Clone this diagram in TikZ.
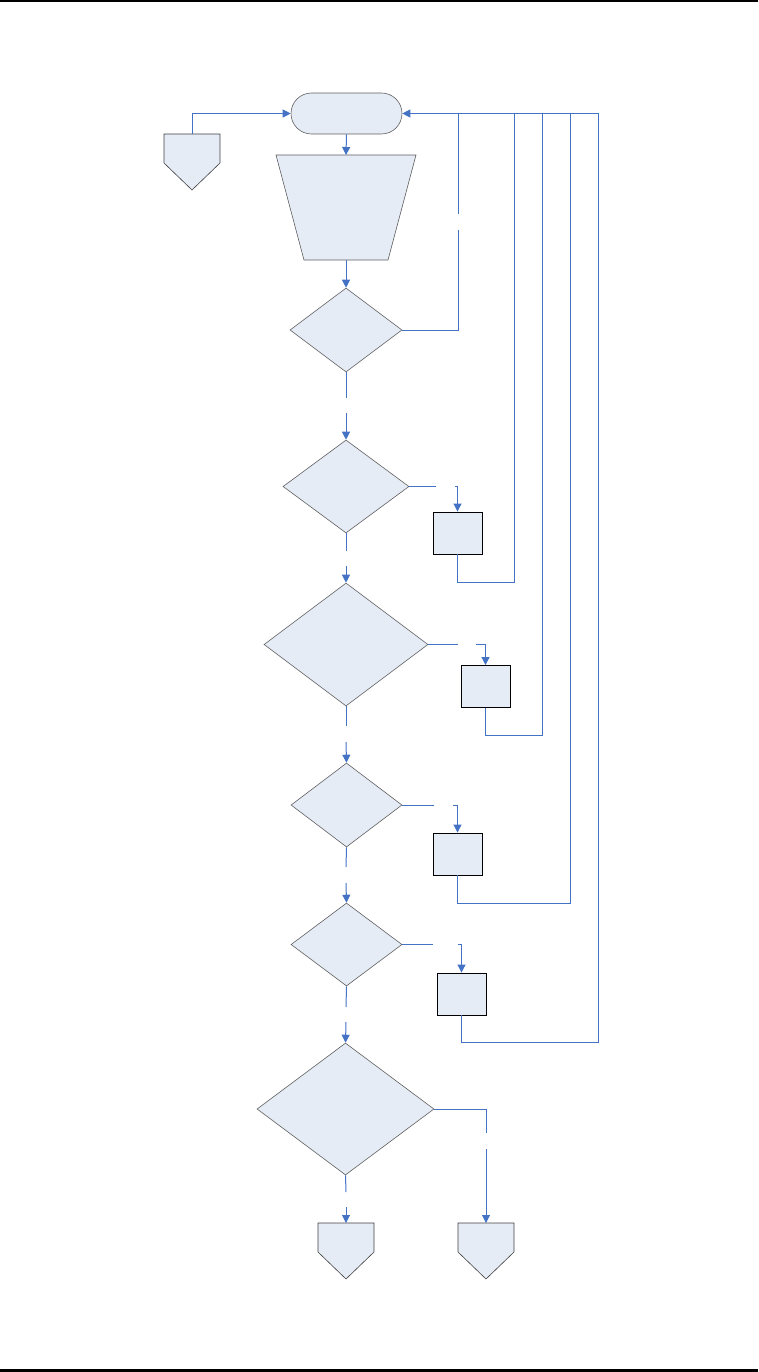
\documentclass[tikz,border=0pt]{standalone}
\usetikzlibrary{shapes.geometric,arrows.meta}
\definecolor{flowline}{RGB}{68,114,196}
\definecolor{shapefill}{RGB}{230,236,246}
\definecolor{shapeedge}{RGB}{95,95,95}
\begin{document}
\begin{tikzpicture}[x=1pt,y=-1pt,
  conn/.style={flowline, line width=1pt},
  arr/.style={conn, -{Triangle[length=8pt,width=8pt]}},
  dec/.style={diamond, draw=shapeedge, fill=shapefill, inner sep=0pt, line width=0.6pt},
  proc/.style={rectangle, draw=black, fill=shapefill, line width=0.9pt, minimum width=49pt, minimum height=42pt, inner sep=0pt},
  ghost/.style={rectangle, inner sep=0pt, outer sep=0pt},
  shapeline/.style={draw=shapeedge, fill=shapefill, line width=0.6pt},
  bar/.style={fill=black, draw=none}
  ]
\useasboundingbox (0,0) rectangle (758,1372);
\fill[bar] (0,0) rectangle (758,2.5);
\fill[bar] (0,1369) rectangle (758,1372);

% terminator
\node[draw=shapeedge, fill=shapefill, line width=0.6pt, rounded corners=20.5pt,
      minimum width=111pt, minimum height=41pt, inner sep=0pt] (start) at (346.5,113.5) {};

% manual operation (trapezoid)
\node[ghost, minimum width=140pt, minimum height=105pt] (man) at (346,207.5) {};
\path[shapeline] (man.north west) -- (man.north east) -- ([xshift=-28pt]man.south east)
   -- ([xshift=28pt]man.south west) -- cycle;

% decisions
\node[dec, minimum width=112pt, minimum height=84pt] (d1) at (346,330) {};
\node[dec, minimum width=126pt, minimum height=93pt] (d2) at (346,486.5) {};
\node[dec, minimum width=164pt, minimum height=123pt] (d3) at (346,644.5) {};
\node[dec, minimum width=111pt, minimum height=84pt] (d4) at (346.5,805) {};
\node[dec, minimum width=111pt, minimum height=83pt] (d5) at (346.5,944.5) {};
\node[dec, minimum width=177pt, minimum height=132pt] (d6) at (345.5,1109) {};

% processes
\node[proc] (p1) at (457.5,533) {};
\node[proc] (p2) at (485.5,686.5) {};
\node[proc] (p3) at (457.5,854) {};
\node[proc] (p4) at (461.5,994) {};

% off-page connectors
\node[ghost, minimum width=56pt, minimum height=56pt] (c0) at (192,162) {};
\node[ghost, minimum width=56pt, minimum height=56pt] (c1) at (346,1251) {};
\node[ghost, minimum width=56pt, minimum height=56pt] (c2) at (486,1251) {};
\foreach \c in {c0,c1,c2}{
  \path[shapeline, draw=black!75] (\c.north west) -- (\c.north east) -- ([yshift=-29pt]\c.north east)
     -- (\c.south) -- ([yshift=-29pt]\c.north west) -- cycle;
}

% coordinates for gaps and corners
\coordinate (g1a) at (346,398);  \coordinate (g1b) at (346,413);
\coordinate (g2a) at (346,551);  \coordinate (g2b) at (346,566);
\coordinate (g3a) at (346,726);  \coordinate (g3b) at (346,742);
\coordinate (g4a) at (346,867);  \coordinate (g4b) at (346,883);
\coordinate (g5a) at (346,1007); \coordinate (g5b) at (346,1022);
\coordinate (g6a) at (346,1192); \coordinate (g6b) at (346,1207);

% main flow
\draw[arr] (c0.north) |- (start.west);
\draw[arr] (start.south) -- (man.north);
\draw[arr] (man.south) -- (d1.north);
\draw[conn] (d1.south) -- (g1a);
\draw[arr] (g1b) -- (d2.north);
\draw[conn] (d2.south) -- (g2a);
\draw[arr] (g2b) -- (d3.north);
\draw[conn] (d3.south) -- (g3a);
\draw[arr] (g3b) -- (d4.north);
\draw[conn] (d4.south) -- (g4a);
\draw[arr] (g4b) -- (d5.north);
\draw[conn] (d5.south) -- (g5a);
\draw[arr] (g5b) -- (d6.north);
\draw[conn] (d6.south) -- (g6a);
\draw[arr] (g6b) -- (c1.north);

% d1 loop back
\coordinate (l1a) at (458.5,214); \coordinate (l1b) at (458.5,230);
\draw[conn] (d1.east) -| (l1b);
\draw[arr] (l1a) |- (start.east);

% d2 branch
\coordinate (b2a) at (436,486.5); \coordinate (b2b) at (455,486.5);
\draw[conn] (d2.east) -- (b2a);
\draw[arr] (b2b) -| (p1.north);
\draw[conn] (p1.south) |- (514.5,582) -- (514.5,114);

% d3 branch
\coordinate (b3a) at (458,644.5); \coordinate (b3b) at (476,644.5);
\draw[conn] (d3.east) -- (b3a);
\draw[arr] (b3b) -| (p2.north);
\draw[conn] (p2.south) |- (542.5,735) -- (542.5,114);

% d4 branch
\coordinate (b4a) at (434,805); \coordinate (b4b) at (453,805);
\draw[conn] (d4.east) -- (b4a);
\draw[arr] (b4b) -| (p3.north);
\draw[conn] (p3.south) |- (570.5,903) -- (570.5,114);

% d5 branch
\coordinate (b5a) at (433,944.5); \coordinate (b5b) at (458,944.5);
\draw[conn] (d5.east) -- (b5a);
\draw[arr] (b5b) -| (p4.north);
\draw[conn] (p4.south) |- (598.5,1042) -- (598.5,114) -- (458.5,114);

% d6 branch
\coordinate (b6a) at (486,1133); \coordinate (b6b) at (486,1149);
\draw[conn] (d6.east) -| (b6a);
\draw[arr] (b6b) -- (c2.north);
\end{tikzpicture}
\end{document}
